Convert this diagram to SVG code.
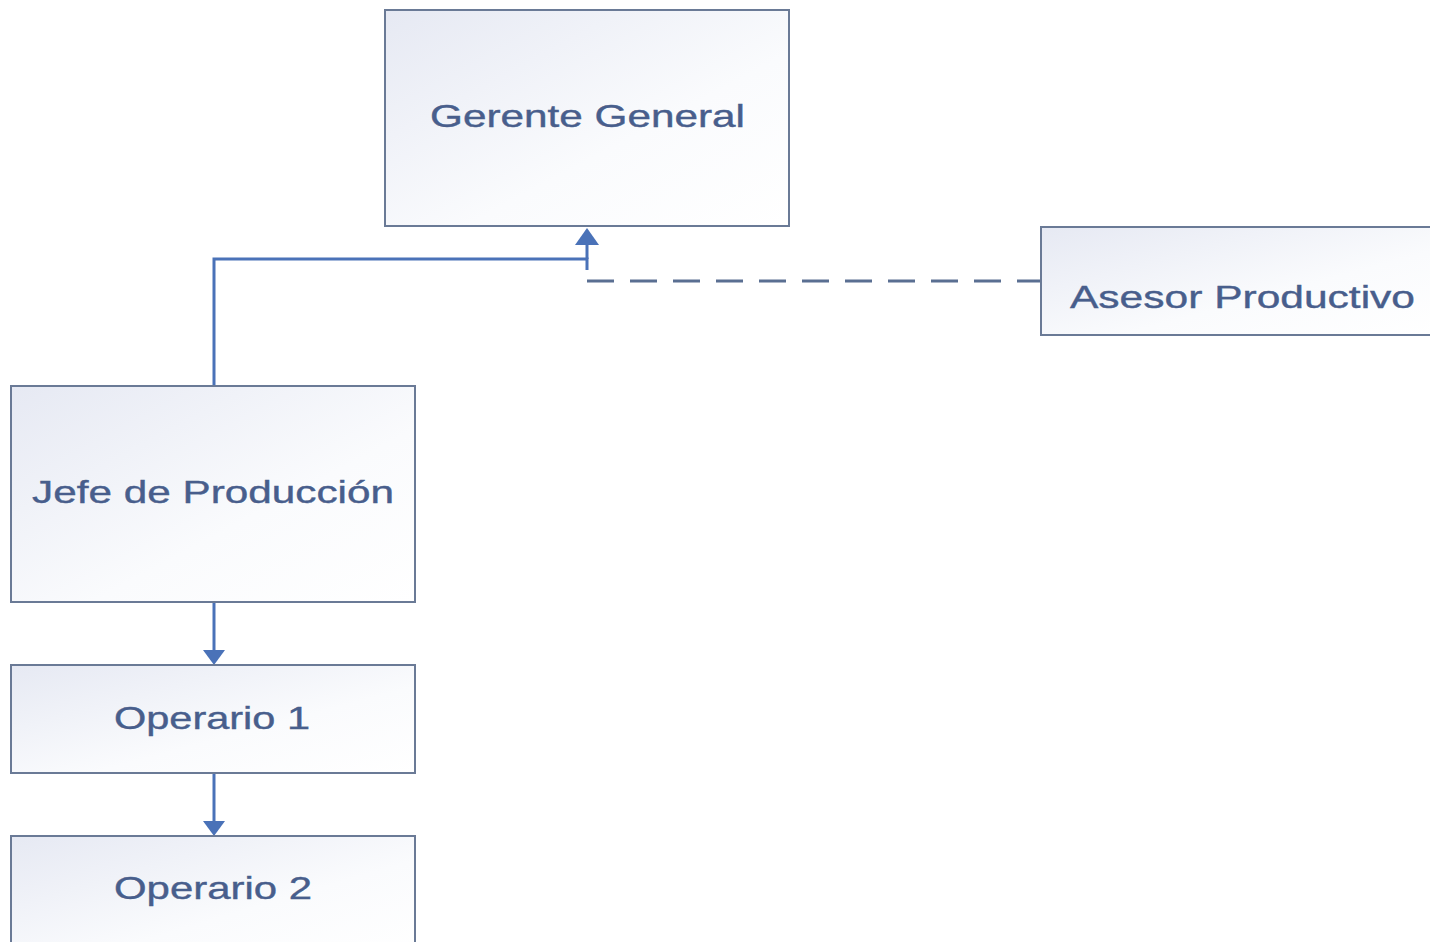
<svg xmlns="http://www.w3.org/2000/svg" width="1430" height="942" viewBox="0 0 1430 942">
<defs>
<linearGradient id="fill" x1="0" y1="0" x2="1" y2="1">
<stop offset="0" stop-color="#e6e9f3"/>
<stop offset="0.6" stop-color="#fafbfd"/>
<stop offset="1" stop-color="#ffffff"/>
</linearGradient>
<style>
.box{fill:url(#fill);stroke:#6a7a96;stroke-width:2}
.lbl{font-family:"Liberation Sans",Arial,sans-serif;font-size:32px;fill:#485e8c;stroke:#485e8c;stroke-width:0.4}
.con{fill:none;stroke:#4a72b8;stroke-width:3}
.dash{fill:none;stroke:#5a6f92;stroke-width:3;stroke-dasharray:27 16}
.head{fill:#4a72b8}
</style>
</defs>
<rect width="1430" height="942" fill="#ffffff"/>
<g id="connectors">
<path class="con" d="M214,386 V259 H587 V270"/>
<path class="con" d="M587,243 V259"/>
<path class="head" d="M575,245 L587,228 L599,245 Z"/>
<path class="dash" d="M587,281 H1041"/>
<path class="con" d="M214,602 V651"/>
<path class="head" d="M203,650 L214,665 L225,650 Z"/>
<path class="con" d="M214,773 V822"/>
<path class="head" d="M203,821 L214,836 L225,821 Z"/>
</g>
<g id="gerente">
<rect class="box" x="385" y="10" width="404" height="216"/>
<text class="lbl" x="430" y="127" textLength="315" lengthAdjust="spacingAndGlyphs">Gerente General</text>
</g>
<g id="asesor">
<rect class="box" x="1041" y="227" width="400" height="108"/>
<text class="lbl" x="1070" y="308" textLength="345" lengthAdjust="spacingAndGlyphs">Asesor Productivo</text>
</g>
<g id="jefe">
<rect class="box" x="11" y="386" width="404" height="216"/>
<text class="lbl" x="32" y="503" textLength="362" lengthAdjust="spacingAndGlyphs">Jefe de Producción</text>
</g>
<g id="operario1">
<rect class="box" x="11" y="665" width="404" height="108"/>
<text class="lbl" x="114" y="729" textLength="196" lengthAdjust="spacingAndGlyphs">Operario 1</text>
</g>
<g id="operario2">
<rect class="box" x="11" y="836" width="404" height="120"/>
<text class="lbl" x="114" y="899" textLength="198" lengthAdjust="spacingAndGlyphs">Operario 2</text>
</g>
</svg>
